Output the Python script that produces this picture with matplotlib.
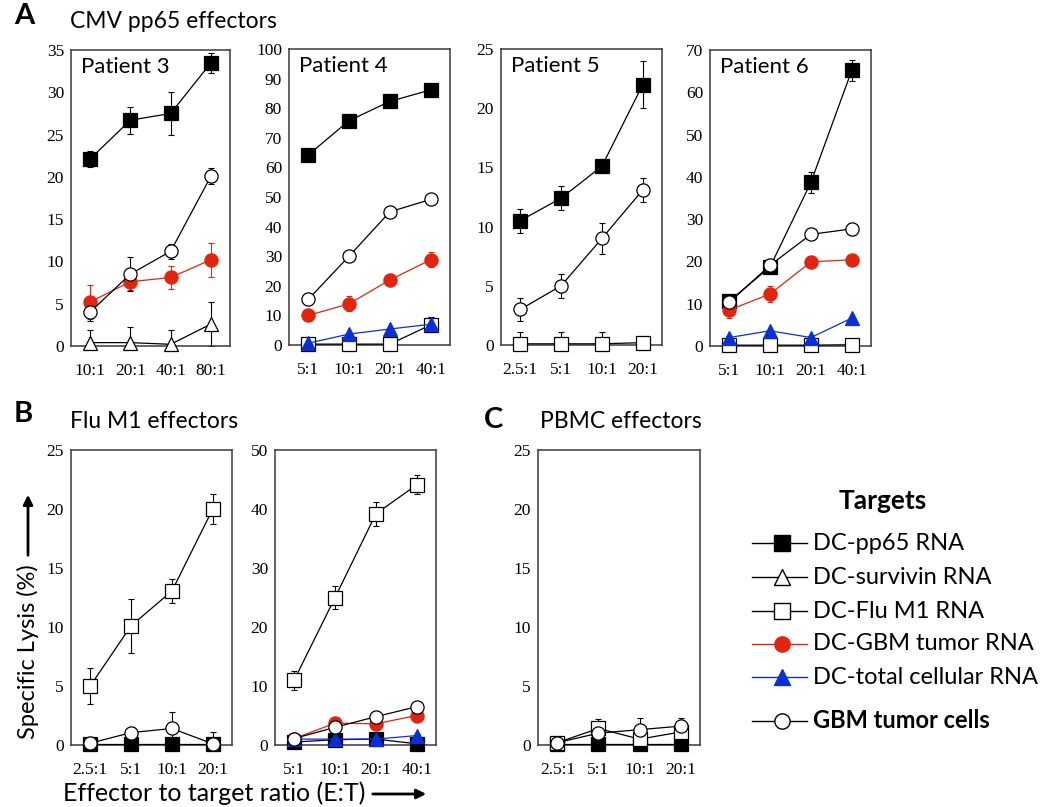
import matplotlib
matplotlib.use('Agg')
import matplotlib.pyplot as plt

# ---- data (specific lysis %) ----
ratios_p3 = ['10:1', '20:1', '40:1', '80:1']
ratios_p4 = ['5:1', '10:1', '20:1', '40:1']
ratios_p5 = ['2.5:1', '5:1', '10:1', '20:1']
ratios_p6 = ['5:1', '10:1', '20:1', '40:1']
ratios_b1 = ['2.5:1', '5:1', '10:1', '20:1']
ratios_b2 = ['5:1', '10:1', '20:1', '40:1']
ratios_c = ['2.5:1', '5:1', '10:1', '20:1']

# patient 3
p3_pp65 = [22.1, 26.7, 27.5, 33.5]
p3_pp65_err = [0.9, 1.6, 2.5, 1.2]
p3_surv = [0.4, 0.4, 0.2, 2.6]
p3_surv_err = [1.5, 1.8, 1.7, 2.6]
p3_rna = [5.2, 7.6, 8.1, 10.2]
p3_rna_err = [2.0, 1.0, 1.4, 2.0]
p3_cells = [4.0, 8.5, 11.2, 20.1]
p3_cells_err = [1.0, 2.0, 0.9, 0.9]

# patient 4
p4_pp65 = [64.2, 75.8, 82.3, 86.2]
p4_pp65_err = [1.0, 2.0, 1.0, 1.5]
p4_flu = [0.3, 0.3, 0.3, 6.8]
p4_flu_err = [0.5, 0.5, 0.5, 2.5]
p4_rna = [10.0, 13.9, 22.0, 28.8]
p4_rna_err = [0.5, 2.5, 2.0, 2.5]
p4_total = [0.6, 3.7, 5.4, 7.0]
p4_total_err = [0.5, 0.5, 0.5, 0.5]
p4_cells = [15.4, 30.0, 45.0, 49.2]
p4_cells_err = [0.5, 0.5, 0.5, 0.5]

# patient 5
p5_pp65 = [10.5, 12.4, 15.1, 22.0]
p5_pp65_err = [1.0, 1.0, 0.6, 2.0]
p5_flu = [0.1, 0.1, 0.1, 0.2]
p5_flu_err = [1.0, 1.0, 1.0, 0.1]
p5_cells = [3.0, 5.0, 9.0, 13.1]
p5_cells_err = [1.0, 1.0, 1.3, 1.0]

# patient 6
p6_pp65 = [10.6, 18.7, 38.7, 65.2]
p6_pp65_err = [1.0, 1.0, 2.5, 2.5]
p6_flu = [0.2, 0.2, 0.2, 0.3]
p6_flu_err = [0.2, 0.2, 0.2, 0.2]
p6_rna = [8.5, 12.3, 19.9, 20.4]
p6_rna_err = [1.8, 1.8, 1.5, 0.5]
p6_total = [2.0, 3.6, 2.0, 6.6]
p6_total_err = [0.3, 0.3, 0.3, 0.3]
p6_cells = [10.3, 19.1, 26.4, 27.7]
p6_cells_err = [1.5, 1.5, 0.5, 1.5]

# Flu M1 effectors, left
b1_pp65 = [0.1, 0.1, 0.1, 0.1]
b1_pp65_err = [0.1, 0.1, 0.1, 0.1]
b1_flu = [5.0, 10.1, 13.05, 20.0]
b1_flu_err = [1.5, 2.3, 1.0, 1.3]
b1_cells = [0.15, 1.05, 1.4, 0.1]
b1_cells_err = [0.2, 0.5, 1.4, 1.0]

# Flu M1 effectors, right
b2_pp65 = [0.5, 0.9, 1.0, 0.2]
b2_pp65_err = [0.2, 0.2, 0.2, 0.2]
b2_flu = [11.0, 25.0, 39.2, 44.1]
b2_flu_err = [1.6, 2.0, 2.0, 1.6]
b2_rna = [1.1, 3.7, 3.6, 5.0]
b2_rna_err = [0.5, 0.5, 0.8, 0.5]
b2_total = [1.0, 1.0, 1.0, 1.6]
b2_total_err = [0.8, 0.3, 0.3, 0.3]
b2_cells = [1.1, 3.0, 4.8, 6.5]
b2_cells_err = [0.3, 0.3, 0.5, 0.3]

# PBMC effectors
c_pp65 = [0.1, 0.1, 0.1, 0.1]
c_pp65_err = [0.1, 0.1, 0.1, 0.1]
c_flu = [0.2, 1.4, 0.5, 1.1]
c_flu_err = [0.3, 0.8, 0.8, 0.8]
c_cells = [0.2, 1.0, 1.3, 1.6]
c_cells_err = [0.3, 0.8, 1.0, 0.7]

target_names = ['DC-pp65 RNA', 'DC-survivin RNA', 'DC-Flu M1 RNA',
                'DC-GBM tumor RNA', 'DC-total cellular RNA', 'GBM tumor cells']

RED = '#e3240f'
BLUE = '#0b2fd6'
styles = {
    'pp65': dict(marker='s', mfc='black', mec='black', color='black'),
    'surv': dict(marker='^', mfc='white', mec='black', color='black'),
    'flu': dict(marker='s', mfc='white', mec='black', color='black'),
    'rna': dict(marker='o', mfc=RED, mec=RED, color=RED),
    'total': dict(marker='^', mfc=BLUE, mec=BLUE, color=BLUE),
    'cells': dict(marker='o', mfc='white', mec='black', color='black'),
}
order = ['pp65', 'surv', 'flu', 'rna', 'total', 'cells']

W, H = 1050, 807
fig = plt.figure(figsize=(W / 100, H / 100), dpi=100)

SANS = ['Lato', 'DejaVu Sans']
SERIF = 'Liberation Serif'


def px_axes(l, t, r, b):
    return fig.add_axes([l / W, 1 - b / H, (r - l) / W, (b - t) / H])


def panel(box, ratios, series, ymax, ystep, label=None):
    ax = px_axes(*box)
    x = list(range(len(ratios)))
    for key in order:
        if key not in series:
            continue
        vals, errs = series[key]
        st = styles[key]
        ax.errorbar(x, vals, yerr=errs, fmt='none', ecolor=st['color'],
                    elinewidth=0.8, capsize=2.5, capthick=0.8, zorder=2)
        ax.plot(x, vals, color=st['color'], lw=0.9, marker=st['marker'],
                ms=9.5, mfc=st['mfc'], mec=st['mec'], mew=0.9, zorder=3,
                clip_on=False)
    ax.set_xlim(-0.47, len(ratios) - 0.53)
    ax.set_ylim(0, ymax)
    ax.set_yticks(range(0, ymax + 1, ystep))
    ax.set_xticks(x)
    ax.set_xticklabels(ratios)
    ax.tick_params(length=0, labelsize=12.5, pad=5)
    ax.tick_params(axis='x', pad=12)
    for t in ax.get_xticklabels() + ax.get_yticklabels():
        t.set_fontfamily(SERIF)
    for sp in ax.spines.values():
        sp.set_color('#3a3a3a')
        sp.set_linewidth(1.1)
    if label:
        ax.text(0.06, 0.975, label, transform=ax.transAxes, ha='left',
                va='top', fontsize=16, family=SANS)
    return ax


panel((71, 50, 230, 346), ratios_p3,
      {'pp65': (p3_pp65, p3_pp65_err), 'surv': (p3_surv, p3_surv_err),
       'rna': (p3_rna, p3_rna_err), 'cells': (p3_cells, p3_cells_err)},
      35, 5, 'Patient 3')
panel((289, 49, 450, 345), ratios_p4,
      {'pp65': (p4_pp65, p4_pp65_err), 'flu': (p4_flu, p4_flu_err),
       'rna': (p4_rna, p4_rna_err), 'total': (p4_total, p4_total_err),
       'cells': (p4_cells, p4_cells_err)},
      100, 10, 'Patient 4')
panel((501, 49, 662, 345), ratios_p5,
      {'pp65': (p5_pp65, p5_pp65_err), 'flu': (p5_flu, p5_flu_err),
       'cells': (p5_cells, p5_cells_err)},
      25, 5, 'Patient 5')
panel((710, 50, 871, 346), ratios_p6,
      {'pp65': (p6_pp65, p6_pp65_err), 'flu': (p6_flu, p6_flu_err),
       'rna': (p6_rna, p6_rna_err), 'total': (p6_total, p6_total_err),
       'cells': (p6_cells, p6_cells_err)},
      70, 10, 'Patient 6')
panel((71, 450, 232, 745), ratios_b1,
      {'pp65': (b1_pp65, b1_pp65_err), 'flu': (b1_flu, b1_flu_err),
       'cells': (b1_cells, b1_cells_err)},
      25, 5)
panel((275, 450, 436, 745), ratios_b2,
      {'pp65': (b2_pp65, b2_pp65_err), 'flu': (b2_flu, b2_flu_err),
       'rna': (b2_rna, b2_rna_err), 'total': (b2_total, b2_total_err),
       'cells': (b2_cells, b2_cells_err)},
      50, 10)
panel((538, 450, 700, 745), ratios_c,
      {'pp65': (c_pp65, c_pp65_err), 'flu': (c_flu, c_flu_err),
       'cells': (c_cells, c_cells_err)},
      25, 5)

# overlay in pixel coordinates for headings, axis labels and legend
ov = fig.add_axes([0, 0, 1, 1], zorder=-1)
ov.set_xlim(0, W)
ov.set_ylim(H, 0)
ov.axis('off')

ov.text(14, 16, 'A', fontsize=21, fontweight='bold', family=SANS, va='center')
ov.text(70, 22, 'CMV pp65 effectors', fontsize=16.5, family=SANS, va='center')
ov.text(14, 414, 'B', fontsize=21, fontweight='bold', family=SANS, va='center')
ov.text(70, 422, 'Flu M1 effectors', fontsize=16.5, family=SANS, va='center')
ov.text(484, 420, 'C', fontsize=21, fontweight='bold', family=SANS, va='center')
ov.text(540, 422, 'PBMC effectors', fontsize=16.5, family=SANS, va='center')

ov.text(28, 652, 'Specific Lysis (%)', fontsize=17, family=SANS, rotation=90,
        ha='center', va='center')
ov.annotate('', xy=(28, 492), xytext=(28, 558),
            arrowprops=dict(arrowstyle='-|>', lw=2, color='black',
                            mutation_scale=14))
ov.text(63, 793, 'Effector to target ratio (E:T)', fontsize=18, family=SANS,
        ha='left', va='center')
ov.annotate('', xy=(429, 794), xytext=(370, 794),
            arrowprops=dict(arrowstyle='-|>', lw=2, color='black',
                            mutation_scale=14))

# legend
ov.text(883, 501, 'Targets', fontsize=19, fontweight='bold', family=SANS,
        ha='center', va='center')
leg_y = [543, 577, 611, 644, 677, 721]
for key, name, y in zip(order, target_names, leg_y):
    st = styles[key]
    ov.plot([752, 807], [y, y], color=st['color'], lw=1)
    ov.plot([782], [y], marker=st['marker'], ms=11, mfc=st['mfc'],
            mec=st['mec'], mew=1, color=st['color'])
    ov.text(813, y, name, fontsize=17, family=SANS, va='center',
            fontweight='bold' if key == 'cells' else 'normal')

fig.savefig('out.png', dpi=100)
